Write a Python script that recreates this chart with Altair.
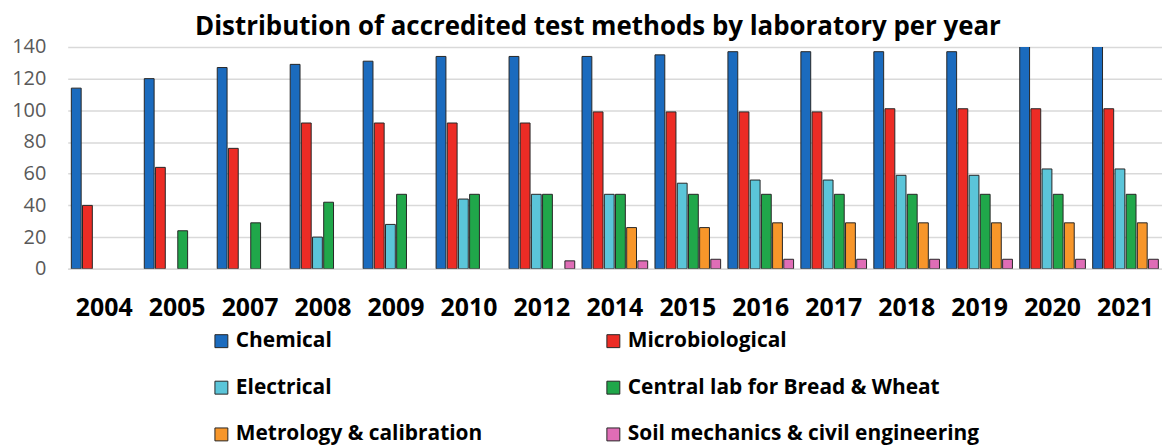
import altair as alt
import pandas as pd

years = ["2004", "2005", "2007", "2008", "2009", "2010", "2012", "2014",
         "2015", "2016", "2017", "2018", "2019", "2020", "2021"]
series_names = ["Chemical", "Microbiological", "Electrical",
                "Central lab for Bread & Wheat", "Metrology & calibration",
                "Soil mechanics & civil engineering"]
chemical = [114, 120, 127, 129, 131, 134, 134, 134, 135, 137, 137, 137, 137, 142, 142]
microbiological = [40, 64, 76, 92, 92, 92, 92, 99, 99, 99, 99, 101, 101, 101, 101]
electrical = [None, None, None, 20, 28, 44, 47, 47, 54, 56, 56, 59, 59, 63, 63]
central_lab = [None, 24, 29, 42, 47, 47, 47, 47, 47, 47, 47, 47, 47, 47, 47]
metrology = [None, None, None, None, None, None, None, 26, 26, 29, 29, 29, 29, 29, 29]
soil = [None, None, None, None, None, None, 5, 5, 6, 6, 6, 6, 6, 6, 6]
colors = ["#1B6BBE", "#EC2C25", "#5BC5D9", "#20A74A", "#F7962A", "#DF6DB6"]
y_ticks = [0, 20, 40, 60, 80, 100, 120, 140]

# legend fills column by column: order entries so rows read as in the reference
legend_order = [series_names[i] for i in (0, 2, 4, 1, 3, 5)]
legend_colors = [colors[i] for i in (0, 2, 4, 1, 3, 5)]

rows = []
for name, vals in zip(series_names, [chemical, microbiological, electrical,
                                     central_lab, metrology, soil]):
    for yr, v in zip(years, vals):
        if v is not None:
            rows.append({"Year": yr, "Lab": name, "Value": v})
df = pd.DataFrame(rows)

FONT = "Open Sans"

chart = alt.Chart(df).mark_bar(
    stroke="#262626", strokeWidth=1, clip=True
).encode(
    x=alt.X("Year:N", sort=years, title=None,
            scale=alt.Scale(domain=years, paddingInner=0.1, paddingOuter=0.05),
            axis=alt.Axis(labelAngle=0, labelFont=FONT, labelFontSize=25,
                          labelFontWeight="bold", labelColor="#000000",
                          labelPadding=27, ticks=False, domain=True,
                          domainColor="#D9D9D9", domainWidth=1.5, grid=False)),
    xOffset=alt.XOffset("Lab:N", sort=series_names,
                        scale=alt.Scale(domain=series_names, paddingInner=0.12,
                                        paddingOuter=0)),
    y=alt.Y("Value:Q", title=None,
            scale=alt.Scale(domain=[0, 140], nice=False),
            axis=alt.Axis(values=y_ticks, labelFont=FONT, labelFontSize=20,
                          labelColor="#595959", labelPadding=22, ticks=False,
                          domain=False, gridColor="#D9D9D9", gridWidth=1.5)),
    color=alt.Color("Lab:N", sort=legend_order,
                    scale=alt.Scale(domain=legend_order, range=legend_colors),
                    legend=alt.Legend(
                        title=None, orient="none", legendX=144, legendY=285,
                        columns=2, columnPadding=121, rowPadding=25,
                        symbolType="square", symbolSize=169,
                        symbolStrokeColor="#262626", symbolStrokeWidth=1,
                        labelFont=FONT, labelFontSize=21, labelFontWeight="bold",
                        labelColor="#000000", labelOffset=4, labelLimit=500,
                        padding=0)),
).properties(
    width=1100, height=223,
    title=alt.TitleParams(
        "Distribution of accredited test methods by laboratory per year",
        font=FONT, fontSize=26, fontWeight="bold", color="#000000",
        anchor="middle", offset=-3, dx=-17),
    autosize=alt.AutoSizeParams(type="none"),
    padding={"left": 60, "top": 38, "right": 0, "bottom": 178},
).configure_view(stroke=None)

chart.save("out.html", embed_options={"renderer": "svg", "actions": False})
